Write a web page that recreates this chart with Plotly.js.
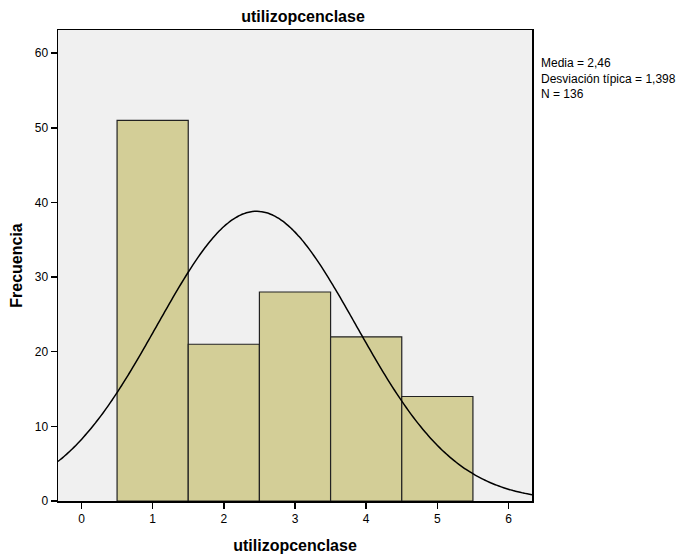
<!DOCTYPE html>
<html>
<head>
<meta charset="utf-8">
<script src="https://cdn.plot.ly/plotly-3.0.1.min.js"></script>
<style>html,body{margin:0;padding:0;background:#fff;}#chart{width:679px;height:555px;}</style>
</head>
<body>
<div id="chart"></div>
<script>
// Data
var categories = [1, 2, 3, 4, 5];
var frequencies = [51, 21, 28, 22, 14];
var xTicks = [0, 1, 2, 3, 4, 5, 6];
var yTicks = [0, 10, 20, 30, 40, 50, 60];
var statMean = 2.46;
var statSD = 1.398;
var statN = 136;
var statLabels = ["Media = 2,46", "Desviación típica = 1,398", "N = 136"];

// Normal curve overlay defined by the displayed statistics (bin width 1)
var xMin = -0.33, xMax = 6.33;
var curveX = [], curveY = [];
for (var i = 0; i <= 200; i++) {
  var x = xMin + (xMax - xMin) * i / 200;
  var z = (x - statMean) / statSD;
  curveX.push(x);
  curveY.push(statN * Math.exp(-0.5 * z * z) / (statSD * Math.sqrt(2 * Math.PI)));
}

var traces = [
  {
    type: 'bar', x: categories, y: frequencies, width: 1,
    marker: {color: '#d3ce97', line: {color: '#222222', width: 1.2}},
    hoverinfo: 'skip'
  },
  {
    type: 'scatter', mode: 'lines', x: curveX, y: curveY,
    line: {color: '#000000', width: 1.5, shape: 'spline'},
    hoverinfo: 'skip'
  }
];

var font = {family: 'Liberation Sans, Arial, sans-serif', color: '#000'};

var layout = {
  width: 679, height: 555,
  margin: {l: 58, r: 147, t: 30, b: 54},
  paper_bgcolor: '#ffffff',
  plot_bgcolor: '#f0f0f0',
  showlegend: false,
  font: {family: font.family, size: 12, color: '#000'},
  title: {text: '<b>utilizopcenclase</b>', font: {family: font.family, size: 16, color: '#000'},
          x: 351/679, xanchor: 'center', y: 1 - 16/555, yanchor: 'middle', xref: 'paper'},
  xaxis: {
    range: [xMin, xMax], tickvals: xTicks, ticktext: xTicks.map(String),
    ticks: 'outside', ticklen: 6, tickwidth: 1.5, tickcolor: '#000',
    showline: true, linecolor: '#000', linewidth: 1.5, mirror: true,
    showgrid: false, zeroline: false,
    tickfont: {family: font.family, size: 12, color: '#000'},
    title: {text: '<b>utilizopcenclase</b>', font: {family: font.family, size: 16, color: '#000'}, standoff: 15}
  },
  yaxis: {
    range: [0, 63.1], tickvals: yTicks, ticktext: yTicks.map(String),
    ticks: 'outside', ticklen: 6, tickwidth: 1.5, tickcolor: '#000',
    showline: true, linecolor: '#000', linewidth: 1.5, mirror: true,
    showgrid: false, zeroline: false,
    tickfont: {family: font.family, size: 12, color: '#000'},
    title: {text: '<b>Frecuencia</b>', font: {family: font.family, size: 16, color: '#000'}, standoff: 8}
  },
  annotations: [{
    xref: 'paper', yref: 'paper', x: (539 - 58) / (679 - 58 - 147), y: 1 - (54 - 30) / (555 - 30 - 54),
    xanchor: 'left', yanchor: 'top', align: 'left', showarrow: false,
    text: statLabels.join('<br>'),
    font: {family: font.family, size: 12, color: '#000'}
  }]
};

Plotly.newPlot('chart', traces, layout, {staticPlot: true, displayModeBar: false});
</script>
</body>
</html>
